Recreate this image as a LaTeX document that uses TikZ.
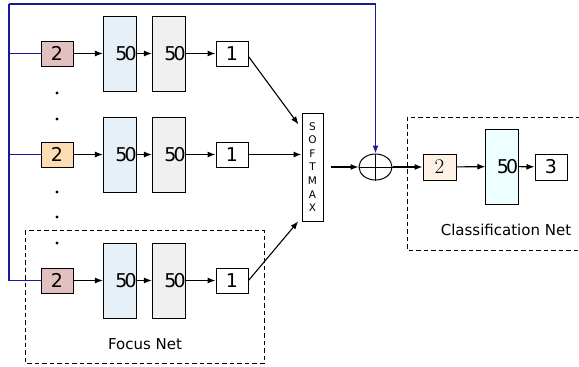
\documentclass[tikz,border=0pt]{standalone}
\usepackage{fontspec}
\setsansfont{DejaVu Sans}
\usetikzlibrary{arrows.meta,calc,shapes.geometric}
\definecolor{wirecol}{RGB}{25,25,160}
\definecolor{inpink}{RGB}{227,192,192}
\definecolor{inpeach}{RGB}{253,222,180}
\definecolor{hidblue}{RGB}{230,240,248}
\definecolor{hidgray}{RGB}{240,240,240}
\definecolor{clsin}{RGB}{253,242,228}
\definecolor{clshid}{RGB}{238,255,255}
\newcommand{\fifty}{5\kern-3pt0}
\tikzset{
  digit/.style={font=\sffamily\fontsize{19}{19}\selectfont},
  unitbox/.style={draw, line width=1pt, minimum width=32pt, minimum height=25pt, inner sep=0pt, digit},
  layerbox/.style={draw, line width=1pt, minimum width=30pt, minimum height=75pt, inner sep=0pt, digit},
  flow/.style={line width=1.1pt, -{Latex[length=8pt,width=6pt]}},
  wire/.style={draw=wirecol, line width=1.2pt},
  dotmark/.style={circle, fill=black, inner sep=0pt, minimum size=3.4pt},
  groupframe/.style={line width=1pt, dash pattern=on 4.5pt off 3pt},
  caption/.style={font=\sffamily\fontsize{15}{15}\selectfont}
}
\begin{document}
\begin{tikzpicture}[x=1pt,y=-1pt]
\useasboundingbox (0,0) rectangle (579,367);

% focus-net rows
\foreach \r/\y/\c in {1/53.5/inpink, 2/154.5/inpeach, 3/280.5/inpink}{
  \node[unitbox, fill=\c] (in\r) at (57,\y) {2};
  \node[layerbox, fill=hidblue] (ha\r) at (120,\y) {\hspace*{12pt}\fifty};
  \node[layerbox, fill=hidgray] (hb\r) at (169,\y) {\hspace*{12pt}\fifty};
  \node[unitbox] (out\r) at (232,\y) {1};
  \draw[flow] (in\r) -- (ha\r);
  \draw[flow] (ha\r) -- (hb\r);
  \draw[flow] (hb\r) -- (out\r);
}

% vertical ellipsis between rows
\foreach \i/\y in {1/93, 2/119, 3/192, 4/217, 5/243}{
  \node[dotmark] (d\i) at (57,\y) {};
}

% softmax
\node[draw, line width=1pt, minimum width=21pt, minimum height=108pt, inner sep=0pt,
      align=center, font=\sffamily\fontsize{10.5}{13.6}\selectfont] (soft) at (312.5,167)
      {S\\O\\F\\T\\M\\A\\X};
\coordinate (s1) at ($(soft.north west)+(0,16)$);
\coordinate (s2) at (soft.west |- out2);
\coordinate (s3) at ($(soft.south west)+(0,-4)$);
\draw[flow, shorten >=5pt] ($(out1.east)+(0,3)$) -- (s1);
\draw[flow] (out2) -- (s2);
\draw[flow, shorten >=5pt] (out3.east) -- (s3);

% combination node
\node[ellipse, draw, line width=1pt, minimum width=33pt, minimum height=26pt, inner sep=0pt] (sum) at (375.5,167) {};
\draw[line width=1pt] (sum.north) -- (sum.south);
\draw[line width=1pt] (sum.west) -- (sum.east);
\draw[flow, shorten <=7pt] (soft.east |- sum) -- (sum.west);

% bypass wire
\coordinate (tl) at (9,4);
\draw[wire] (in3.west) -| (tl);
\draw[wire, -{Latex[length=8pt,width=6pt]}] (tl) -| (sum.north);
\draw[wire] (in1.west) -- (tl |- in1.west);
\draw[wire] (in2.west) -- (tl |- in2.west);

% classification net
\node[unitbox, fill=clsin, minimum width=33pt, minimum height=26pt,
      font=\rmfamily\fontsize{21}{21}\selectfont] (cin) at (439.5,167) {2};
\node[layerbox, fill=clshid] (chid) at (502,166.5) {\hspace*{11pt}\fifty};
\node[unitbox, minimum height=26pt] (cout) at (551,167) {3};
\draw[flow] (sum) -- (cin);
\draw[flow] (cin) -- (chid);
\draw[flow] (chid) -- (cout);

% group frames
\draw[groupframe] (25,230) rectangle (264,363);
\node[caption] (focuslbl) at (145,344) {Focus Net};
\draw[groupframe] (580,117) -- (407,117) -- (407,250) -- (580,250);
\node[caption] (clslbl) at (506,230) {Classification Net};
\end{tikzpicture}
\end{document}
